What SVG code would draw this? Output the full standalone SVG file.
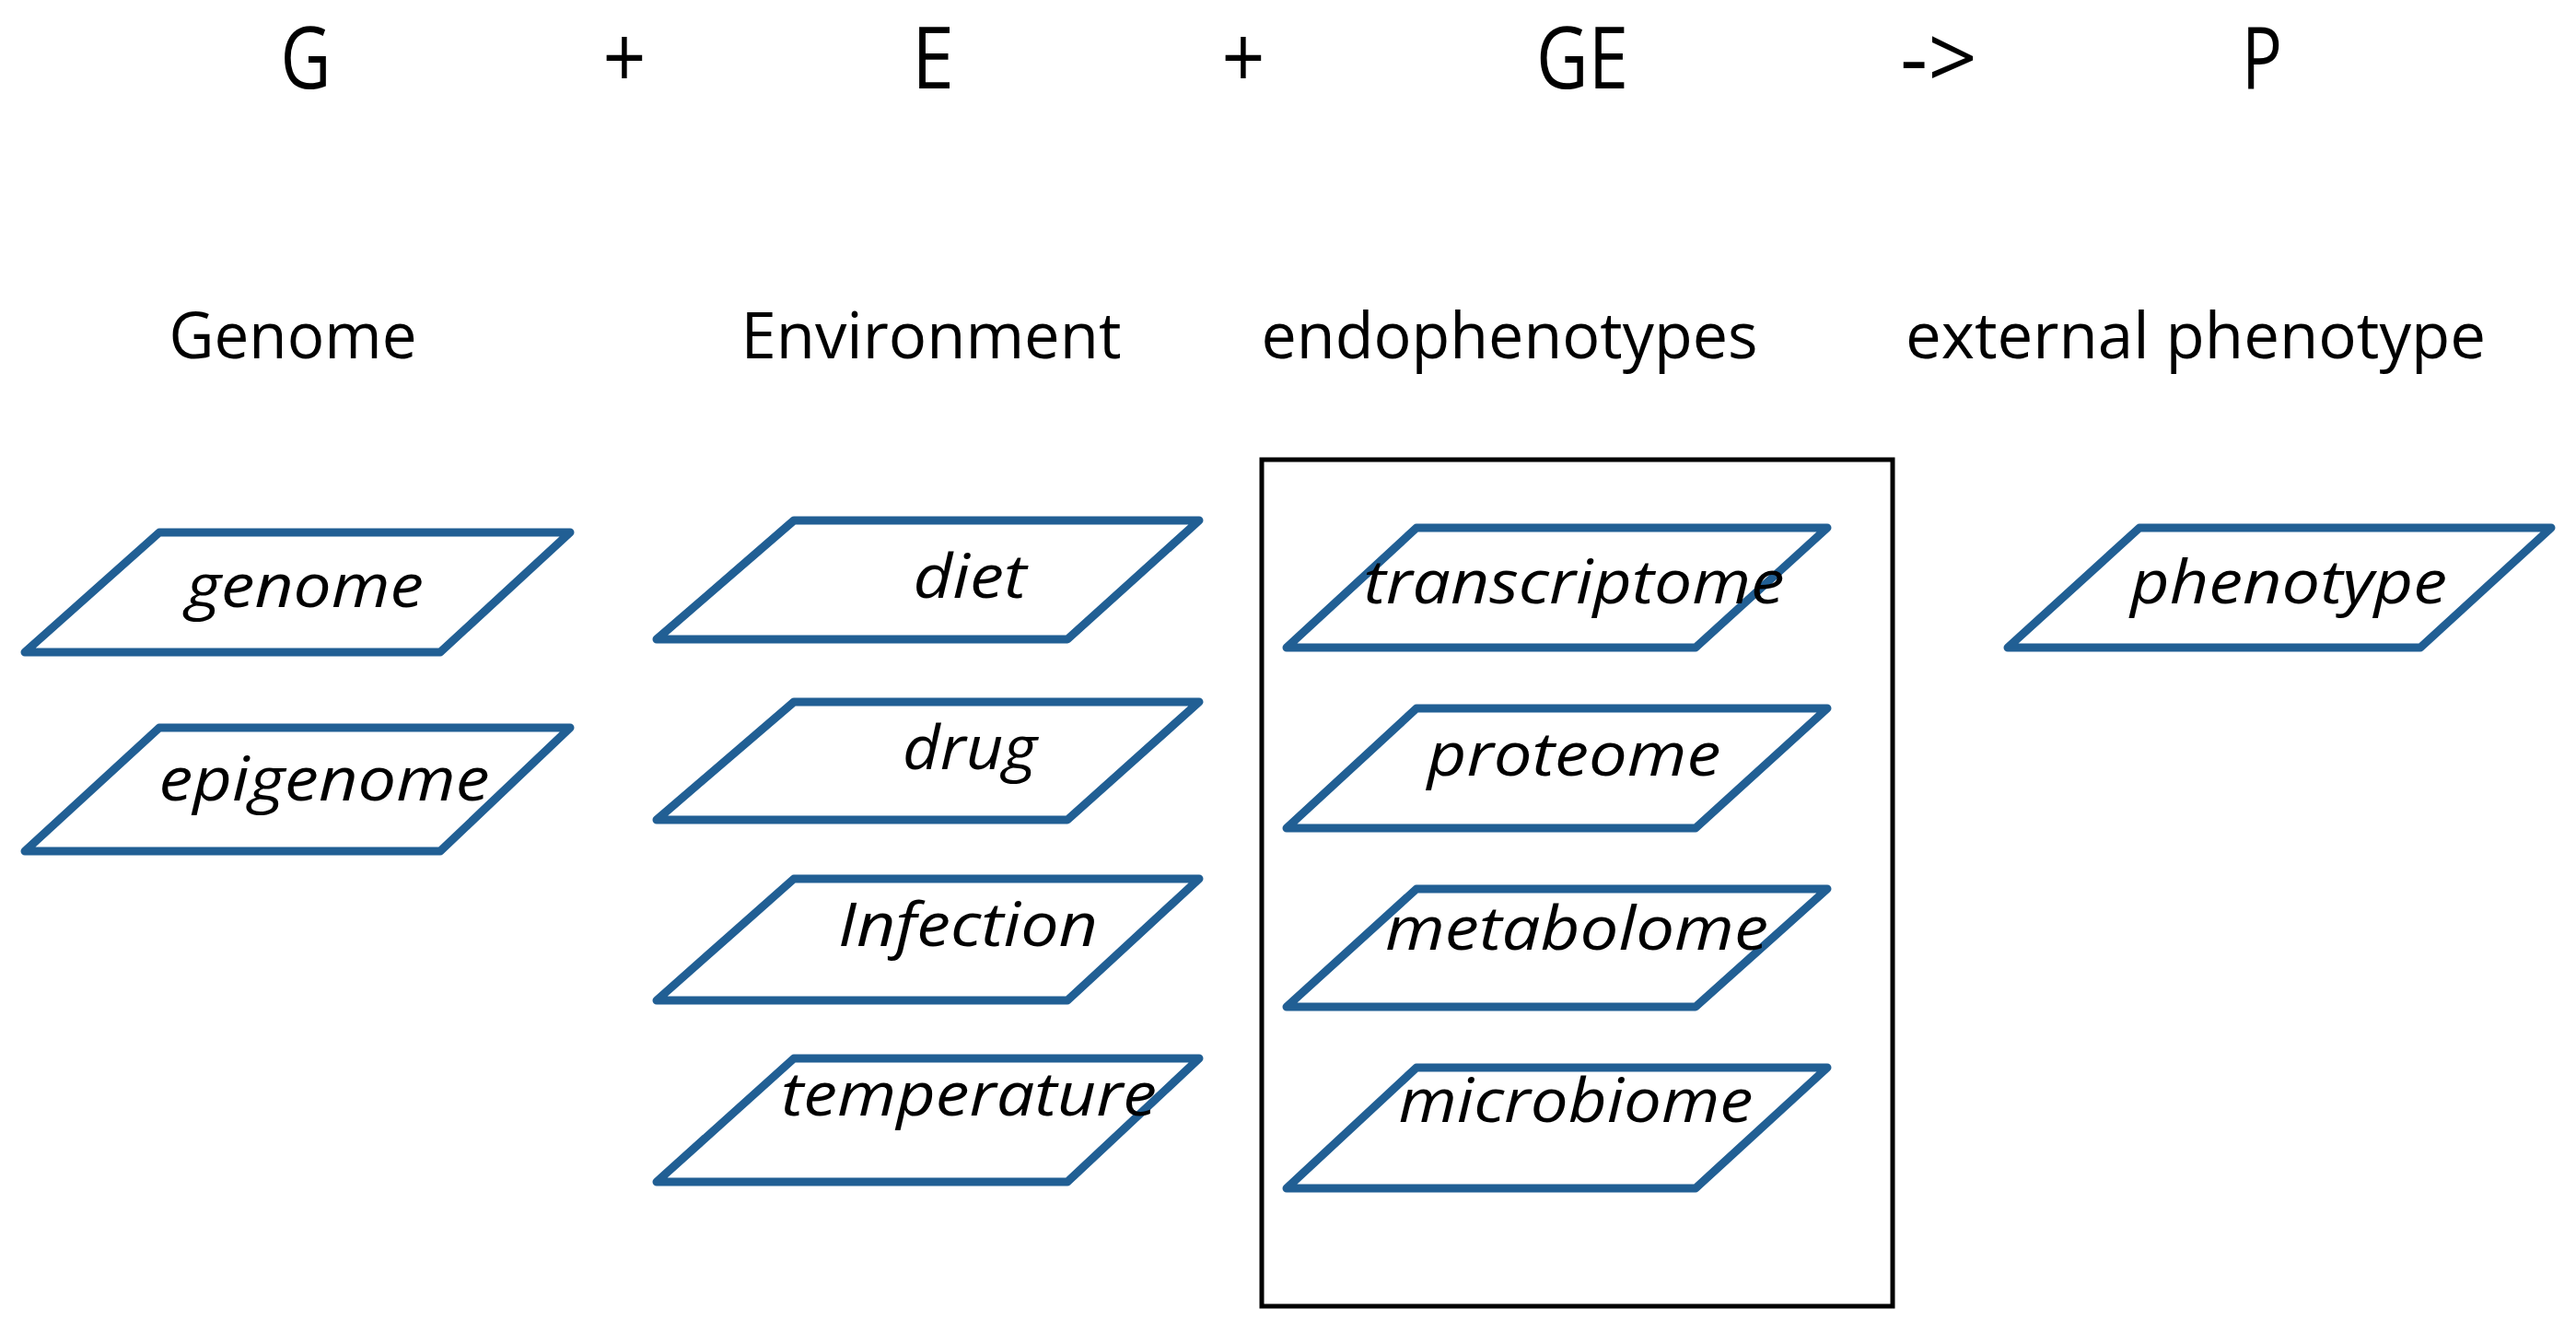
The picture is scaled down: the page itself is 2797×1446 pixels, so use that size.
<svg xmlns="http://www.w3.org/2000/svg" width="2797" height="1446" viewBox="0 0 2797 1446">
<style>
.top{font-family:"Open Sans","Noto Sans","DejaVu Sans",sans-serif;font-size:94px;fill:#000;text-anchor:middle}
.hdr{font-family:"Open Sans","Noto Sans","DejaVu Sans",sans-serif;font-size:70px;fill:#000;text-anchor:middle}
.lbl{font-family:"Open Sans","Noto Sans","DejaVu Sans",sans-serif;font-size:65px;font-style:italic;fill:#000;text-anchor:middle}
.para{fill:#fff;stroke:#215f94;stroke-width:9;stroke-linejoin:round}
.frame{fill:none;stroke:#000;stroke-width:5}
</style>
<rect width="2797" height="1446" fill="#fff"/>
<g id="equation">
<text class="top" x="332" y="96" textLength="55" lengthAdjust="spacingAndGlyphs">G</text>
<text class="top" x="678" y="96" textLength="47" lengthAdjust="spacingAndGlyphs">+</text>
<text class="top" x="1013" y="96" textLength="46" lengthAdjust="spacingAndGlyphs">E</text>
<text class="top" x="1350" y="96" textLength="47" lengthAdjust="spacingAndGlyphs">+</text>
<text class="top" x="1718" y="96" textLength="100" lengthAdjust="spacingAndGlyphs">GE</text>
<text class="top" x="2105" y="96" textLength="84" lengthAdjust="spacingAndGlyphs">-&gt;</text>
<text class="top" x="2456" y="96" textLength="44" lengthAdjust="spacingAndGlyphs">P</text>
</g>
<g id="headers">
<text class="hdr" x="318" y="389" textLength="269" lengthAdjust="spacingAndGlyphs">Genome</text>
<text class="hdr" x="1011" y="389" textLength="413" lengthAdjust="spacingAndGlyphs">Environment</text>
<text class="hdr" x="1639" y="389" textLength="539" lengthAdjust="spacingAndGlyphs">endophenotypes</text>
<text class="hdr" x="2384" y="389" textLength="630" lengthAdjust="spacingAndGlyphs">external phenotype</text>
</g>
<g id="endophenotype-box">
<rect class="frame" x="1370" y="499" width="685" height="919"/>
</g>
<g id="node-genome">
<polygon class="para" points="173,578 619,578 478,708 27,708"/>
<text class="lbl" x="331" y="659" textLength="258" lengthAdjust="spacingAndGlyphs">genome</text>
</g>
<g id="node-epigenome">
<polygon class="para" points="173,790 619,790 478,924 27,924"/>
<text class="lbl" x="352" y="869" textLength="359" lengthAdjust="spacingAndGlyphs">epigenome</text>
</g>
<g id="node-diet">
<polygon class="para" points="862,565 1302,565 1159,694 713,694"/>
<text class="lbl" x="1053" y="649" textLength="123" lengthAdjust="spacingAndGlyphs">diet</text>
</g>
<g id="node-drug">
<polygon class="para" points="862,762 1302,762 1159,890 713,890"/>
<text class="lbl" x="1053" y="835" textLength="146" lengthAdjust="spacingAndGlyphs">drug</text>
</g>
<g id="node-infection">
<polygon class="para" points="862,954 1302,954 1159,1086 713,1086"/>
<text class="lbl" x="1051" y="1027" textLength="282" lengthAdjust="spacingAndGlyphs">Infection</text>
</g>
<g id="node-temperature">
<polygon class="para" points="862,1149 1302,1149 1159,1283 713,1283"/>
<text class="lbl" x="1052" y="1211" textLength="408" lengthAdjust="spacingAndGlyphs">temperature</text>
</g>
<g id="node-transcriptome">
<polygon class="para" points="1538,573 1984,573 1841,703 1397,703"/>
<text class="lbl" x="1709" y="655" textLength="457" lengthAdjust="spacingAndGlyphs">transcriptome</text>
</g>
<g id="node-proteome">
<polygon class="para" points="1538,769 1984,769 1841,899 1397,899"/>
<text class="lbl" x="1709" y="842" textLength="319" lengthAdjust="spacingAndGlyphs">proteome</text>
</g>
<g id="node-metabolome">
<polygon class="para" points="1538,965 1984,965 1841,1093 1397,1093"/>
<text class="lbl" x="1712" y="1031" textLength="416" lengthAdjust="spacingAndGlyphs">metabolome</text>
</g>
<g id="node-microbiome">
<polygon class="para" points="1538,1159 1984,1159 1841,1290 1397,1290"/>
<text class="lbl" x="1711" y="1218" textLength="385" lengthAdjust="spacingAndGlyphs">microbiome</text>
</g>
<g id="node-phenotype">
<polygon class="para" points="2323,573 2770,573 2628,703 2180,703"/>
<text class="lbl" x="2485" y="655" textLength="344" lengthAdjust="spacingAndGlyphs">phenotype</text>
</g>
<g id="connectors"></g>
</svg>
